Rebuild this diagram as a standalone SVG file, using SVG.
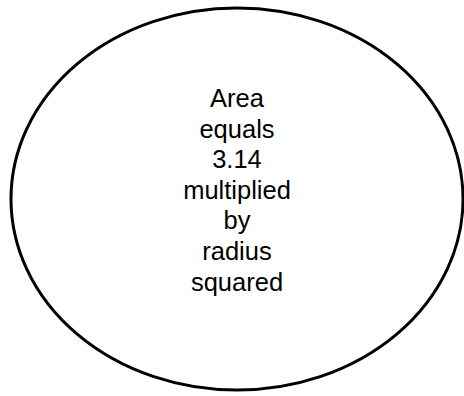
<svg xmlns="http://www.w3.org/2000/svg" width="464" height="396" viewBox="0 0 464 396">
<style>
.shape{fill:#fff;stroke:#000;stroke-width:3}
.lbl{font-family:"Liberation Sans",Arial,sans-serif;font-size:25.5px;fill:#000;text-anchor:middle}
</style>
<rect width="464" height="396" fill="#fff"/>
<g id="circle-node">
<ellipse class="shape" cx="237" cy="199" rx="226" ry="191"/>
<text class="lbl" x="237" y="107">Area</text>
<text class="lbl" x="237" y="137.6">equals</text>
<text class="lbl" x="237" y="168.2">3.14</text>
<text class="lbl" x="237" y="198.8">multiplied</text>
<text class="lbl" x="237" y="229.4">by</text>
<text class="lbl" x="237" y="260">radius</text>
<text class="lbl" x="237" y="290.6">squared</text>
</g>
<g id="connectors"></g>
</svg>
